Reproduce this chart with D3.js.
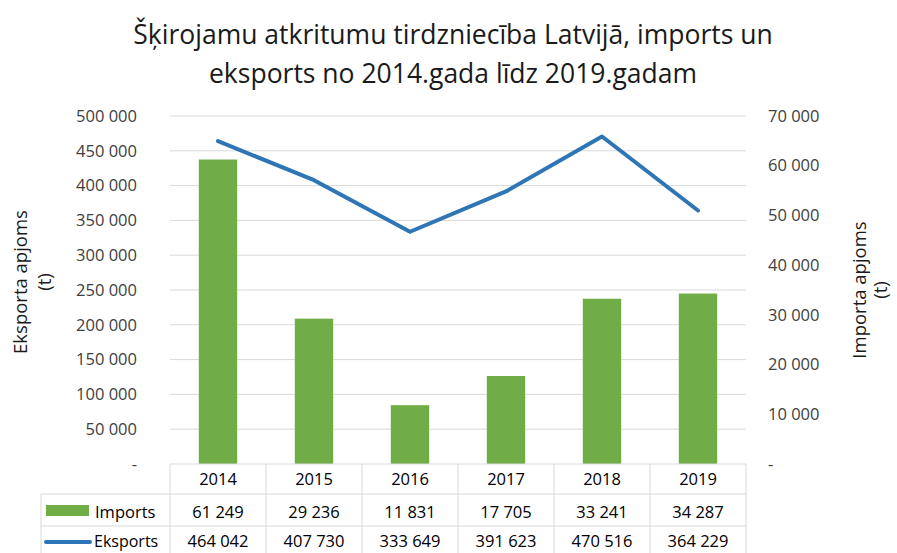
<!DOCTYPE html>
<html>
<head>
<meta charset="utf-8">
<script src="https://cdn.jsdelivr.net/npm/d3@7"></script>
<style>
  body { margin: 0; background: #fff; }
  text { font-family: "Open Sans", sans-serif; fill: #404040; }
</style>
</head>
<body>
<div id="chart"></div>
<script>
const width = 897, height = 553;

const years = ['2014', '2015', '2016', '2017', '2018', '2019'];
const imports = [61249, 29236, 11831, 17705, 33241, 34287];
const eksports = [464042, 407730, 333649, 391623, 470516, 364229];
const leftTicks = [0, 50000, 100000, 150000, 200000, 250000, 300000, 350000, 400000, 450000, 500000];
const rightTicks = [0, 10000, 20000, 30000, 40000, 50000, 60000, 70000];

const plot = { left: 170, right: 746, top: 116, bottom: 464 };

const fmt = v => v === 0 ? '-' : d3.format(',')(v).replace(/,/g, ' ');

const svg = d3.select('#chart').append('svg')
    .attr('width', width)
    .attr('height', height);

// scales
const x = d3.scaleBand()
    .domain(years)
    .range([plot.left, plot.right]);
const yLeft = d3.scaleLinear()
    .domain([0, 500000])
    .range([plot.bottom, plot.top]);
const yRight = d3.scaleLinear()
    .domain([0, 70000])
    .range([plot.bottom, plot.top]);

// title
svg.append('text')
    .attr('x', 453).attr('y', 44)
    .attr('text-anchor', 'middle')
    .style('font-size', '26.5px')
    .style('fill', '#1a1a1a')
    .text('Šķirojamu atkritumu tirdzniecība Latvijā, imports un');
svg.append('text')
    .attr('x', 453).attr('y', 83)
    .attr('text-anchor', 'middle')
    .style('font-size', '26.5px')
    .style('fill', '#1a1a1a')
    .text('eksports no 2014.gada līdz 2019.gadam');

// gridlines
svg.append('g')
    .selectAll('line')
    .data(leftTicks.filter(d => d > 0))
    .enter().append('line')
        .attr('x1', plot.left).attr('x2', plot.right)
        .attr('y1', d => yLeft(d)).attr('y2', d => yLeft(d))
        .attr('stroke', '#d9d9d9')
        .attr('stroke-width', 1);

// left axis
const leftAxis = svg.append('g')
    .attr('transform', `translate(${plot.left - 33},0)`)
    .call(d3.axisLeft(yLeft).tickValues(leftTicks).tickFormat(fmt).tickSize(0).tickPadding(0));
leftAxis.select('.domain').remove();
leftAxis.selectAll('text')
    .style('font-family', '"Open Sans", sans-serif')
    .style('font-size', '16.5px')
    .attr('fill', '#404040');

// right axis
const rightAxis = svg.append('g')
    .attr('transform', `translate(${plot.right + 22},0)`)
    .call(d3.axisRight(yRight).tickValues(rightTicks).tickFormat(fmt).tickSize(0).tickPadding(0));
rightAxis.select('.domain').remove();
rightAxis.selectAll('text')
    .style('font-family', '"Open Sans", sans-serif')
    .style('font-size', '16.5px')
    .attr('fill', '#404040');

// axis titles
const leftTitle = svg.append('text')
    .attr('transform', 'translate(27,282) rotate(-90)')
    .attr('text-anchor', 'middle')
    .style('font-size', '18.5px')
    .style('fill', '#1a1a1a');
leftTitle.append('tspan').attr('x', 0).attr('dy', 0).text('Eksporta apjoms');
leftTitle.append('tspan').attr('x', 0).attr('dy', 24).text('(t)');

const rightTitle = svg.append('text')
    .attr('transform', 'translate(866,290) rotate(-90)')
    .attr('text-anchor', 'middle')
    .style('font-size', '18.5px')
    .style('fill', '#1a1a1a');
rightTitle.append('tspan').attr('x', 0).attr('dy', 0).text('Importa apjoms');
rightTitle.append('tspan').attr('x', 0).attr('dy', 21).text('(t)');

// bars
const barW = x.bandwidth() * 0.4;
svg.append('g')
    .selectAll('rect')
    .data(years)
    .enter().append('rect')
        .attr('x', d => x(d) + (x.bandwidth() - barW) / 2)
        .attr('y', (d, i) => yRight(imports[i]))
        .attr('width', barW)
        .attr('height', (d, i) => plot.bottom - yRight(imports[i]))
        .attr('fill', '#70ad47');

// line
const line = d3.line()
    .x((d, i) => x(years[i]) + x.bandwidth() / 2)
    .y(d => yLeft(d));
svg.append('path')
    .datum(eksports)
    .attr('fill', 'none')
    .attr('stroke', '#2e75b6')
    .attr('stroke-width', 4)
    .attr('stroke-linejoin', 'round')
    .attr('stroke-linecap', 'round')
    .attr('d', line);

// data table
const rows = [plot.bottom, 494, 526, 560];
const tableLeft = 41;
const table = svg.append('g')
    .attr('stroke', '#d9d9d9')
    .attr('stroke-width', 1);
// horizontal lines
table.append('line')
    .attr('x1', plot.left).attr('x2', plot.right)
    .attr('y1', rows[0]).attr('y2', rows[0]);
[rows[1], rows[2]].forEach(y => {
  table.append('line')
      .attr('x1', tableLeft).attr('x2', plot.right)
      .attr('y1', y).attr('y2', y);
});
// vertical lines
table.selectAll('line.col')
    .data(years.concat(['end']))
    .enter().append('line')
        .attr('class', 'col')
        .attr('x1', d => d === 'end' ? plot.right : x(d))
        .attr('x2', d => d === 'end' ? plot.right : x(d))
        .attr('y1', rows[0]).attr('y2', rows[3]);
table.append('line')
    .attr('x1', tableLeft).attr('x2', tableLeft)
    .attr('y1', rows[1]).attr('y2', rows[3]);

const cellText = (y, vals) => {
  svg.append('g')
      .selectAll('text')
      .data(vals)
      .enter().append('text')
          .attr('x', (d, i) => x(years[i]) + x.bandwidth() / 2)
          .attr('y', y)
          .attr('text-anchor', 'middle')
          .style('font-size', '16.5px')
          .style('fill', '#000')
          .text(d => d);
};
cellText(485, years);
cellText(518, imports.map(fmt));
cellText(547, eksports.map(fmt));

// legend keys in table
svg.append('rect')
    .attr('x', 46).attr('y', 505)
    .attr('width', 43).attr('height', 11)
    .attr('fill', '#70ad47');
svg.append('line')
    .attr('x1', 46).attr('x2', 90)
    .attr('y1', 542).attr('y2', 542)
    .attr('stroke', '#2e75b6')
    .attr('stroke-width', 4)
    .attr('stroke-linecap', 'round');
svg.append('text')
    .attr('x', 95).attr('y', 518)
    .style('font-size', '16.5px')
    .style('fill', '#000')
    .text('Imports');
svg.append('text')
    .attr('x', 94).attr('y', 547)
    .style('font-size', '16px')
    .style('fill', '#000')
    .text('Eksports');
</script>
</body>
</html>
